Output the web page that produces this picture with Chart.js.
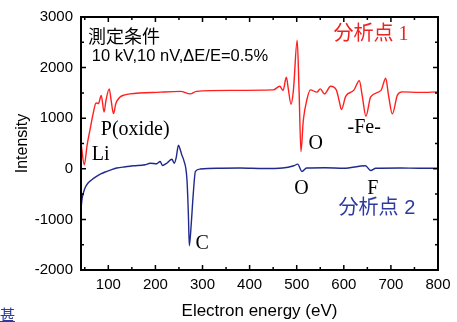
<!DOCTYPE html>
<html>
<head>
<meta charset="utf-8">
<script src="https://cdn.jsdelivr.net/npm/chart.js@4.4.1/dist/chart.umd.min.js"></script>
<style>
  body { margin: 0; background: #fff; }
  #wrap { position: relative; width: 457px; height: 322px; overflow: hidden; }
  #note { position: absolute; left: 0; top: 303px; font: 15px 'Noto Sans CJK JP'; color: #2d3a9e; text-decoration: underline; }
</style>
</head>
<body>
<div id="wrap">
  <canvas id="grafico" width="457" height="322"></canvas>
  <div id="note">甚</div>
</div>
<script>
// 分析点 1 (red)
let redEnergy = [42, 49, 55, 61, 68, 74, 79, 85, 91, 95, 102, 106, 111, 116, 125, 135, 146, 210, 253, 274, 287, 359, 450, 464, 471, 478, 482, 488, 493, 501, 505, 509, 514, 522, 529, 543, 550, 559, 572, 584, 590, 595, 604, 621, 633, 639, 647, 657, 679, 689, 695, 703, 714, 724, 760, 800]
let redIntensity = [510, 78, 470, 765, 1100, 1300, 1290, 1450, 1120, 1350, 1580, 1350, 1090, 1290, 1420, 1460, 1480, 1515, 1530, 1480, 1530, 1550, 1560, 1630, 1550, 1810, 1590, 1275, 1550, 2540, 1550, 340, 960, 1380, 1560, 1515, 1580, 1480, 1630, 1560, 1350, 1170, 1430, 1550, 1740, 1450, 1040, 1420, 1550, 1790, 1450, 1085, 1460, 1520, 1510, 1520]

// 分析点 2 (blue)
let blueEnergy = [42, 44, 47, 51, 57, 65, 75, 84, 97, 106, 118, 136, 153, 178, 189, 203, 210, 215, 224, 235, 240, 244, 249, 253, 256, 260, 267, 270, 272, 276, 280, 285, 295, 330, 380, 430, 470, 494, 502, 511, 521, 560, 600, 646, 657, 668, 720, 760, 800]
let blueIntensity = [-800, -610, -480, -370, -280, -215, -150, -100, -50, -20, 15, 40, 60, 80, 110, 100, 145, 65, 110, 190, 110, 215, 465, 370, 275, 175, -215, -900, -1520, -1100, -540, -50, -5, 10, 15, 5, 15, 60, 92, -53, 15, 20, 10, 59, -33, 10, 15, 10, 10]

let xTicks = [100, 200, 300, 400, 500, 600, 700, 800]
let yTicks = [-2000, -1000, 0, 1000, 2000, 3000]

const pontos = (xs, ys) => xs.map((x, i) => ({ x: x, y: ys[i] }))

// moldura com ticks para dentro nos 4 lados
const moldura = {
  id: 'moldura',
  afterDatasetsDraw(chart) {
    const { ctx, chartArea: a, scales } = chart
    ctx.save()
    ctx.strokeStyle = '#000'
    ctx.lineWidth = 1.5
    for (let v = 50; v <= 800; v += 50) {
      const px = scales.x.getPixelForValue(v)
      const len = v % 100 === 0 ? 5 : 3
      ctx.beginPath()
      ctx.moveTo(px, a.bottom); ctx.lineTo(px, a.bottom - len)
      ctx.moveTo(px, a.top); ctx.lineTo(px, a.top + len)
      ctx.stroke()
    }
    for (let v = -2000; v <= 3000; v += 500) {
      const py = scales.y.getPixelForValue(v)
      const len = v % 1000 === 0 ? 5 : 3
      ctx.beginPath()
      ctx.moveTo(a.left, py); ctx.lineTo(a.left + len, py)
      ctx.moveTo(a.right, py); ctx.lineTo(a.right - len, py)
      ctx.stroke()
    }
    ctx.lineWidth = 2
    ctx.strokeRect(a.left, a.top, a.right - a.left, a.bottom - a.top)
    ctx.restore()
  }
}

const serif = "20px 'Liberation Serif'"
const textos = [
  { t: '測定条件', x: 57, y: 2626, font: "18px 'Noto Sans CJK JP'", cor: '#000' },
  { t: '10 kV,10 nV,\u0394E/E=0.5%', x: 65, y: 2215, font: "16.5px 'Liberation Sans'", cor: '#000' },
  { t: '分析点 1', x: 578, y: 2656, font: "20px 'Liberation Serif', 'Noto Sans CJK JP'", cor: '#ee2222' },
  { t: 'P(oxide)', x: 84, y: 764, font: serif, cor: '#000' },
  { t: 'Li', x: 65, y: 274, font: serif, cor: '#000' },
  { t: 'O', x: 525, y: 500, font: serif, cor: '#000' },
  { t: '-Fe-', x: 608, y: 804, font: serif, cor: '#000' },
  { t: 'O', x: 495, y: -392, font: serif, cor: '#000' },
  { t: 'F', x: 650, y: -392, font: serif, cor: '#000' },
  { t: '分析点 2', x: 589, y: -784, font: "20px 'Liberation Sans', 'Noto Sans CJK JP'", cor: '#2d3a9e' },
  { t: 'C', x: 285, y: -1490, font: serif, cor: '#000' }
]

const rotulos = {
  id: 'rotulos',
  afterDraw(chart) {
    const { ctx, scales } = chart
    ctx.save()
    ctx.textAlign = 'left'
    ctx.textBaseline = 'middle'
    textos.forEach(r => {
      ctx.font = r.font
      ctx.fillStyle = r.cor
      ctx.fillText(r.t, scales.x.getPixelForValue(r.x), scales.y.getPixelForValue(r.y))
    })
    ctx.restore()
  }
}

const fonteEixo = { family: 'Liberation Sans', size: 15 }

new Chart(document.getElementById('grafico'), {
  type: 'line',
  data: {
    datasets: [{
      label: '分析点 1',
      data: pontos(redEnergy, redIntensity),
      borderColor: '#ff1f1f',
      borderWidth: 1.4,
      pointRadius: 0,
      cubicInterpolationMode: 'monotone'
    }, {
      label: '分析点 2',
      data: pontos(blueEnergy, blueIntensity),
      borderColor: '#1f2a8c',
      borderWidth: 1.4,
      pointRadius: 0,
      cubicInterpolationMode: 'monotone'
    }]
  },
  options: {
    responsive: false,
    animation: false,
    devicePixelRatio: 1,
    layout: { padding: { top: 16, right: 19, left: 0, bottom: 0 } },
    plugins: { legend: { display: false }, tooltip: { enabled: false } },
    scales: {
      x: {
        type: 'linear',
        min: 42,
        max: 800,
        afterBuildTicks: s => { s.ticks = xTicks.map(v => ({ value: v })) },
        afterFit: s => { s.height = 52 },
        grid: { display: false, drawTicks: false },
        border: { display: false },
        ticks: { font: fonteEixo, color: '#000', padding: 6, maxRotation: 0, autoSkip: false, callback: v => String(v) },
        title: { display: true, text: 'Electron energy (eV)', color: '#000', font: { family: 'Liberation Sans', size: 17 }, padding: { top: 0, bottom: 0 } }
      },
      y: {
        min: -2000,
        max: 3000,
        afterBuildTicks: s => { s.ticks = yTicks.map(v => ({ value: v })) },
        afterFit: s => { s.width = 81 },
        grid: { display: false, drawTicks: false },
        border: { display: false },
        ticks: { font: fonteEixo, color: '#000', padding: 8, callback: v => String(v) },
        title: { display: true, text: 'Intensity', color: '#000', font: { family: 'Liberation Sans', size: 16 }, padding: { top: 13, bottom: 0 } }
      }
    }
  },
  plugins: [moldura, rotulos]
})
</script>
</body>
</html>
